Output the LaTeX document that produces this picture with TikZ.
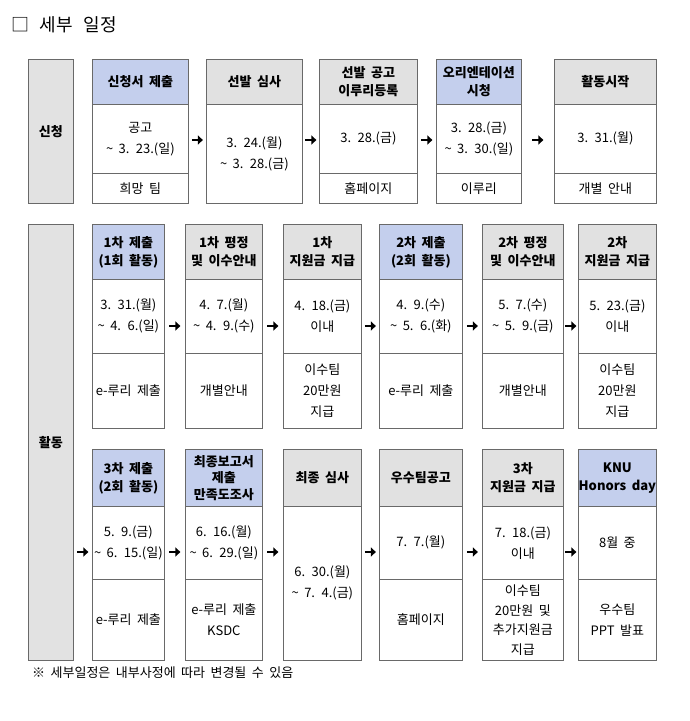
\documentclass[tikz,border=0pt]{standalone}
\usepackage{fontspec}
\setmainfont{Noto Sans CJK KR}
\usetikzlibrary{calc,arrows.meta}
\definecolor{blu}{RGB}{196,207,237}
\definecolor{gry}{RGB}{225,225,225}
\definecolor{lbl}{RGB}{226,226,226}
\definecolor{bord}{RGB}{105,105,105}
\newcommand\tld{\textasciitilde}
\newcommand\fs[2]{\fontsize{#1}{#2}\selectfont\spaceskip=0.42em plus 0.1em\relax}
\newcommand\ttlfont{\fontsize{18}{20}\selectfont\spaceskip=0.6em\relax}
\tikzset{
 base/.style={draw=bord, line width=0.75pt, inner sep=0pt, anchor=north west, align=center},
 hdr/.style={base, fill=#1, font=\fs{13}{18}\bfseries},
 cell/.style={base, fill=white, font=\fs{13}{21}},
 lab/.style={base, fill=lbl, font=\fs{13}{15}\bfseries},
 arr/.style={line width=2.4pt, -{Triangle[length=5pt,width=9pt]}},
}
\newcommand\conn[3]{\draw[arr] let \p1=(#1.east), \p2=(#2.west) in ({(\x1+\x2)/2-5.5pt},{-#3pt}) -- ({(\x1+\x2)/2+5.5pt},{-#3pt});}
\begin{document}
\begin{tikzpicture}[x=1pt,y=-1pt]
\fill[white] (0,0) rectangle (690,721);
\useasboundingbox (0,0) rectangle (690,721);

\node[anchor=west, inner sep=0pt, font=\ttlfont] (title) at (11,25) {□ 세부 일정};

% ---------- Row 1 ----------
\node[lab, minimum width=45pt, minimum height=144pt] (L1) at (28,59) {신청};

\node[hdr=blu, minimum width=96pt, minimum height=45pt] (a1h) at (92,59) {신청서 제출};
\node[cell, minimum width=96pt, minimum height=69pt] (a1m) at (92,104) {공고\\\tld\ 3. 23.(일)};
\node[cell, minimum width=96pt, minimum height=30pt] (a1b) at (92,173) {희망 팀};

\node[hdr=gry, minimum width=96pt, minimum height=45pt] (a2h) at (206,59) {선발 심사};
\node[cell, minimum width=96pt, minimum height=99pt] (a2m) at (206,104) {3. 24.(월)\\\tld\ 3. 28.(금)};

\node[hdr=gry, minimum width=98pt, minimum height=45pt] (a3h) at (319,59) {선발 공고\\이루리등록};
\node[cell, minimum width=98pt, minimum height=69pt] (a3m) at (319,104) {3. 28.(금)};
\node[cell, minimum width=98pt, minimum height=30pt] (a3b) at (319,173) {홈페이지};

\node[hdr=blu, minimum width=85pt, minimum height=45pt] (a4h) at (436,59) {오리엔테이션\\시청};
\node[cell, minimum width=85pt, minimum height=69pt] (a4m) at (436,104) {3. 28.(금)\\\tld\ 3. 30.(일)};
\node[cell, minimum width=85pt, minimum height=30pt] (a4b) at (436,173) {이루리};

\node[hdr=gry, minimum width=102pt, minimum height=45pt] (a5h) at (554,59) {활동시작};
\node[cell, minimum width=102pt, minimum height=69pt] (a5m) at (554,104) {3. 31.(월)};
\node[cell, minimum width=102pt, minimum height=30pt] (a5b) at (554,173) {개별 안내};

\conn{a1m}{a2m}{140}
\conn{a2m}{a3m}{140}
\conn{a3m}{a4m}{140}
\conn{a4m}{a5m}{140}

% ---------- Row 2 ----------
\node[lab, minimum width=45pt, minimum height=436pt] (L2) at (28,224) {활동};

\node[hdr=blu, minimum width=72pt, minimum height=55pt] (b1h) at (92,224) {1차 제출\\(1회 활동)};
\node[cell, minimum width=72pt, minimum height=74pt] (b1m) at (92,279) {3. 31.(월)\\\tld\ 4. 6.(일)};
\node[cell, minimum width=72pt, minimum height=75pt] (b1b) at (92,353) {e-루리 제출};

\node[hdr=gry, minimum width=77pt, minimum height=55pt] (b2h) at (185,224) {1차 평정\\및 이수안내};
\node[cell, minimum width=77pt, minimum height=74pt] (b2m) at (185,279) {4. 7.(월)\\\tld\ 4. 9.(수)};
\node[cell, minimum width=77pt, minimum height=75pt] (b2b) at (185,353) {개별안내};

\node[hdr=gry, minimum width=78pt, minimum height=55pt] (b3h) at (283,224) {1차\\지원금 지급};
\node[cell, minimum width=78pt, minimum height=74pt] (b3m) at (283,279) {4. 18.(금)\\이내};
\node[cell, minimum width=78pt, minimum height=75pt] (b3b) at (283,353) {이수팀\\20만원\\지급};

\node[hdr=blu, minimum width=83pt, minimum height=55pt] (b4h) at (379,224) {2차 제출\\(2회 활동)};
\node[cell, minimum width=83pt, minimum height=74pt] (b4m) at (379,279) {4. 9.(수)\\\tld\ 5. 6.(화)};
\node[cell, minimum width=83pt, minimum height=75pt] (b4b) at (379,353) {e-루리 제출};

\node[hdr=gry, minimum width=81pt, minimum height=55pt] (b5h) at (482,224) {2차 평정\\및 이수안내};
\node[cell, minimum width=81pt, minimum height=74pt] (b5m) at (482,279) {5. 7.(수)\\\tld\ 5. 9.(금)};
\node[cell, minimum width=81pt, minimum height=75pt] (b5b) at (482,353) {개별안내};

\node[hdr=gry, minimum width=78pt, minimum height=55pt] (b6h) at (578,224) {2차\\지원금 지급};
\node[cell, minimum width=78pt, minimum height=74pt] (b6m) at (578,279) {5. 23.(금)\\이내};
\node[cell, minimum width=78pt, minimum height=75pt] (b6b) at (578,353) {이수팀\\20만원\\지급};

\conn{b1m}{b2m}{326}
\conn{b2m}{b3m}{326}
\conn{b3m}{b4m}{326}
\conn{b4m}{b5m}{326}
\conn{b5m}{b6m}{326}

% ---------- Row 3 ----------
\node[hdr=blu, minimum width=72pt, minimum height=57pt] (c1h) at (92,449) {3차 제출\\(2회 활동)};
\node[cell, minimum width=72pt, minimum height=73pt] (c1m) at (92,506) {5. 9.(금)\\\tld\ 6. 15.(일)};
\node[cell, minimum width=72pt, minimum height=81pt] (c1b) at (92,579) {e-루리 제출};

\node[hdr=blu, minimum width=77pt, minimum height=57pt, font=\fs{13}{16.5}\bfseries] (c2h) at (185,449) {최종보고서\\제출\\만족도조사};
\node[cell, minimum width=77pt, minimum height=73pt] (c2m) at (185,506) {6. 16.(월)\\\tld\ 6. 29.(일)};
\node[cell, minimum width=77pt, minimum height=81pt] (c2b) at (185,579) {e-루리 제출\\KSDC};

\node[hdr=gry, minimum width=78pt, minimum height=57pt] (c3h) at (283,449) {최종 심사};
\node[cell, minimum width=78pt, minimum height=154pt] (c3m) at (283,506) {6. 30.(월)\\\tld\ 7. 4.(금)};

\node[hdr=gry, minimum width=83pt, minimum height=57pt] (c4h) at (379,449) {우수팀공고};
\node[cell, minimum width=83pt, minimum height=73pt] (c4m) at (379,506) {7. 7.(월)};
\node[cell, minimum width=83pt, minimum height=81pt] (c4b) at (379,579) {홈페이지};

\node[hdr=gry, minimum width=81pt, minimum height=57pt] (c5h) at (482,449) {3차\\지원금 지급};
\node[cell, minimum width=81pt, minimum height=73pt] (c5m) at (482,506) {7. 18.(금)\\이내};
\node[cell, minimum width=81pt, minimum height=81pt, font=\fs{13}{19.5}] (c5b) at (482,579) {이수팀\\20만원 및\\추가지원금\\지급};

\node[hdr=blu, minimum width=78pt, minimum height=57pt] (c6h) at (578,449) {KNU\\Honors day};
\node[cell, minimum width=78pt, minimum height=73pt] (c6m) at (578,506) {8월 중};
\node[cell, minimum width=78pt, minimum height=81pt] (c6b) at (578,579) {우수팀\\PPT 발표};

\conn{L2}{c1m}{552}
\conn{c1m}{c2m}{552}
\conn{c2m}{c3m}{552}
\conn{c3m}{c4m}{552}
\conn{c4m}{c5m}{552}
\conn{c5m}{c6m}{552}

\node[anchor=west, inner sep=0pt, font=\fs{13}{15}] (note) at (32,673) {※ 세부일정은 내부사정에 따라 변경될 수 있음};
\end{tikzpicture}
\end{document}
